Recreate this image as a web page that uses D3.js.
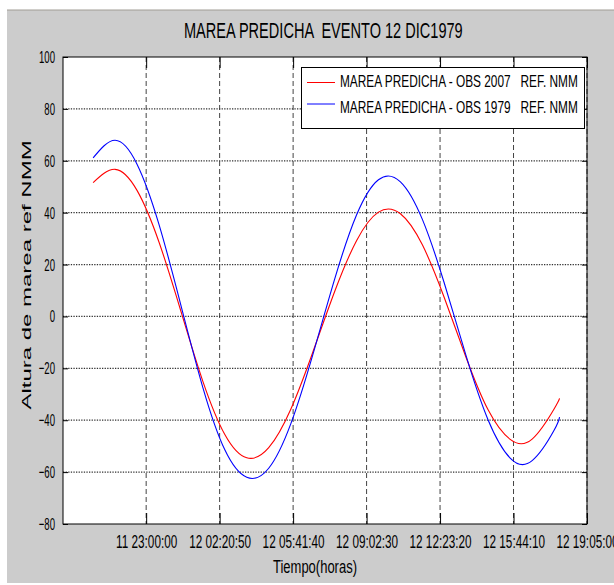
<!DOCTYPE html>
<html>
<head>
<meta charset="utf-8">
<script src="https://cdn.jsdelivr.net/npm/d3@7"></script>
<style>
body{margin:0;background:#fff;}
text{font-family:"Liberation Sans",Arial,Helvetica,sans-serif;fill:#000;}
</style>
</head>
<body>
<svg id="chart" width="614" height="585"></svg>
<script>
// horas de la marea predicha (cada hora)
const fechas = [
  "1979-12-11T20:35:00","1979-12-11T21:35:00","1979-12-11T22:35:00","1979-12-11T23:35:00",
  "1979-12-12T00:35:00","1979-12-12T01:35:00","1979-12-12T02:35:00","1979-12-12T03:35:00",
  "1979-12-12T04:35:00","1979-12-12T05:35:00","1979-12-12T06:35:00","1979-12-12T07:35:00",
  "1979-12-12T08:35:00","1979-12-12T09:35:00","1979-12-12T10:35:00","1979-12-12T11:35:00",
  "1979-12-12T12:35:00","1979-12-12T13:35:00","1979-12-12T14:35:00","1979-12-12T15:35:00",
  "1979-12-12T16:35:00","1979-12-12T17:35:00","1979-12-12T17:50:00"
];
const obs2007 = [51.6,56.7,48.6,28.7,2.0,-25.0,-45.5,-54.5,-50.6,-35.9,-14.0,9.5,
                 29.2,40.2,39.6,27.6,7.2,-16.0,-36.1,-47.4,-47.3,-35.7,-31.6];
const obs1979 = [61.1,67.9,58.7,35.5,4.3,-27.4,-51.4,-62.0,-58.5,-41.5,-15.0,14.3,
                 39.1,52.7,51.9,37.4,12.8,-15.4,-40.0,-54.6,-55.6,-43.9,-38.8];

const xDominio = ["1979-12-11T19:12:40","1979-12-12T19:05:00"];
const xTicks = ["1979-12-11T23:00:00","1979-12-12T02:20:50","1979-12-12T05:41:40",
                "1979-12-12T09:02:30","1979-12-12T12:23:20","1979-12-12T15:44:10","1979-12-12T19:05:00"];
const yTicks = [-80,-60,-40,-20,0,20,40,60,80,100];
const nombres = ["MAREA PREDICHA - OBS 2007   REF. NMM","MAREA PREDICHA - OBS 1979   REF. NMM"];
const colores = ["#ff0000","#0000ff"];

const parse = d3.timeParse("%Y-%m-%dT%H:%M:%S");
const fmt = d3.timeFormat("%d %H:%M:%S");

let izq=63, der=587, arriba=57, abajo=524;

let svg = d3.select("#chart");

// fondo gris de la figura
svg.append("rect").attr("x",7).attr("y",10).attr("width",607).attr("height",573).attr("fill","#cccccc");
svg.append("line").attr("x1",7).attr("x2",614).attr("y1",10).attr("y2",10).attr("stroke","#a09c94");

let x = d3.scaleTime().domain(xDominio.map(parse)).range([izq,der]);
let y = d3.scaleLinear().domain([-80,100]).range([abajo,arriba]);
let xt = xTicks.map(parse);

svg.append("rect").attr("x",izq).attr("y",arriba).attr("width",der-izq).attr("height",abajo-arriba).attr("fill","#fff");

// grilla
svg.append("g").selectAll("line")
  .data(xt)
  .enter()
  .append("line")
  .attr("x1", function(d){return x(d);})
  .attr("x2", function(d){return x(d);})
  .attr("y1", arriba).attr("y2", abajo)
  .attr("stroke","#444").attr("stroke-width",1).attr("stroke-dasharray","5,3");

svg.append("g").selectAll("line")
  .data(yTicks.slice(1,-1))
  .enter()
  .append("line")
  .attr("x1", izq).attr("x2", der)
  .attr("y1", function(d){return y(d);})
  .attr("y2", function(d){return y(d);})
  .attr("stroke","#333").attr("stroke-width",1.2).attr("stroke-dasharray","1.3,1.3");

// curvas
let series = [obs2007, obs1979];
let linea = d3.line()
  .x(function(d){return x(d[0]);})
  .y(function(d){return y(d[1]);})
  .curve(d3.curveNatural);

svg.append("g").selectAll("path")
  .data(series)
  .enter()
  .append("path")
  .attr("d", function(s){ return linea(s.map(function(v,i){return [parse(fechas[i]), v];})); })
  .attr("fill","none")
  .attr("stroke", function(d,i){return colores[i];})
  .attr("stroke-width",1.1);

// comprime el texto en horizontal (la figura original esta achatada)
// ancho: si es < 1 es un factor, si no es el ancho final en px
function comprimir(sel, ancho){
  sel.each(function(){
    let t = d3.select(this);
    let w = this.getComputedTextLength();
    if (!(w > 0)) return;
    let sx = ancho < 1 ? ancho : ancho/w;
    let x0 = +t.attr("x") || 0;
    t.attr("x", x0/sx).attr("transform","scale("+sx+",1)");
  });
}

// ejes
function estiloEje(g, size, ratio){
  g.select(".domain").remove();
  g.attr("font-family",null).attr("font-size",size);
  g.selectAll("line").attr("stroke","#000");
  g.selectAll("text").attr("fill","#000");
  if (ratio < 1) comprimir(g.selectAll("text"), ratio);
}

let gx = svg.append("g").attr("transform","translate(0,"+abajo+")")
  .call(d3.axisBottom(x).tickValues(xt).tickFormat(fmt).tickSizeInner(-11).tickSizeOuter(0).tickPadding(11));
estiloEje(gx, 18.5, 0.635);

let gxt = svg.append("g").attr("transform","translate(0,"+arriba+")")
  .call(d3.axisTop(x).tickValues(xt).tickFormat("").tickSizeInner(-11).tickSizeOuter(0));
estiloEje(gxt, 18, 1);

let gy = svg.append("g").attr("transform","translate("+izq+",0)")
  .call(d3.axisLeft(y).tickValues(yTicks).tickSizeInner(-5).tickSizeOuter(0).tickPadding(8));
estiloEje(gy, 17, 0.565);

let gyr = svg.append("g").attr("transform","translate("+der+",0)")
  .call(d3.axisRight(y).tickValues(yTicks).tickFormat("").tickSizeInner(-5).tickSizeOuter(0));
estiloEje(gyr, 17, 1);

// marco
svg.append("rect").attr("x",izq).attr("y",arriba).attr("width",der-izq).attr("height",abajo-arriba)
  .attr("fill","none").attr("stroke","#000").attr("stroke-width",1);

// leyenda
let ley = svg.append("g");
ley.append("rect").attr("x",301.5).attr("y",67.5).attr("width",283).attr("height",61)
  .attr("fill","#fff").attr("stroke","#000");
let filas = [82.5, 104];
ley.selectAll("line.ley")
  .data(nombres)
  .enter()
  .append("line")
  .attr("x1",307).attr("x2",335)
  .attr("y1", function(d,i){return filas[i];})
  .attr("y2", function(d,i){return filas[i];})
  .attr("stroke", function(d,i){return colores[i];});
let textosLey = ley.selectAll("text")
  .data(nombres)
  .enter()
  .append("text")
  .attr("x",340)
  .attr("y", function(d,i){return [87.5,113.5][i];})
  .attr("xml:space","preserve")
  .style("white-space","pre")
  .attr("font-size",16.5)
  .text(function(d){return d;});
comprimir(textosLey, 238);

// titulos
let titulo = svg.append("text").attr("x",323.3).attr("y",38.3).attr("text-anchor","middle")
  .attr("font-size",22)
  .attr("xml:space","preserve").style("white-space","pre")
  .text("MAREA PREDICHA  EVENTO 12 DIC1979");
comprimir(titulo, 279);

let xlab = svg.append("text").attr("x",315).attr("y",573.5).attr("text-anchor","middle")
  .attr("font-size",17.5)
  .text("Tiempo(horas)");
comprimir(xlab, 84);

svg.append("text").attr("transform","translate(31,275) scale(0.56,1) rotate(-90)")
  .attr("text-anchor","middle").attr("font-size",24).attr("fill","#111")
  .text("Altura de marea ref NMM");
</script>
</body>
</html>
